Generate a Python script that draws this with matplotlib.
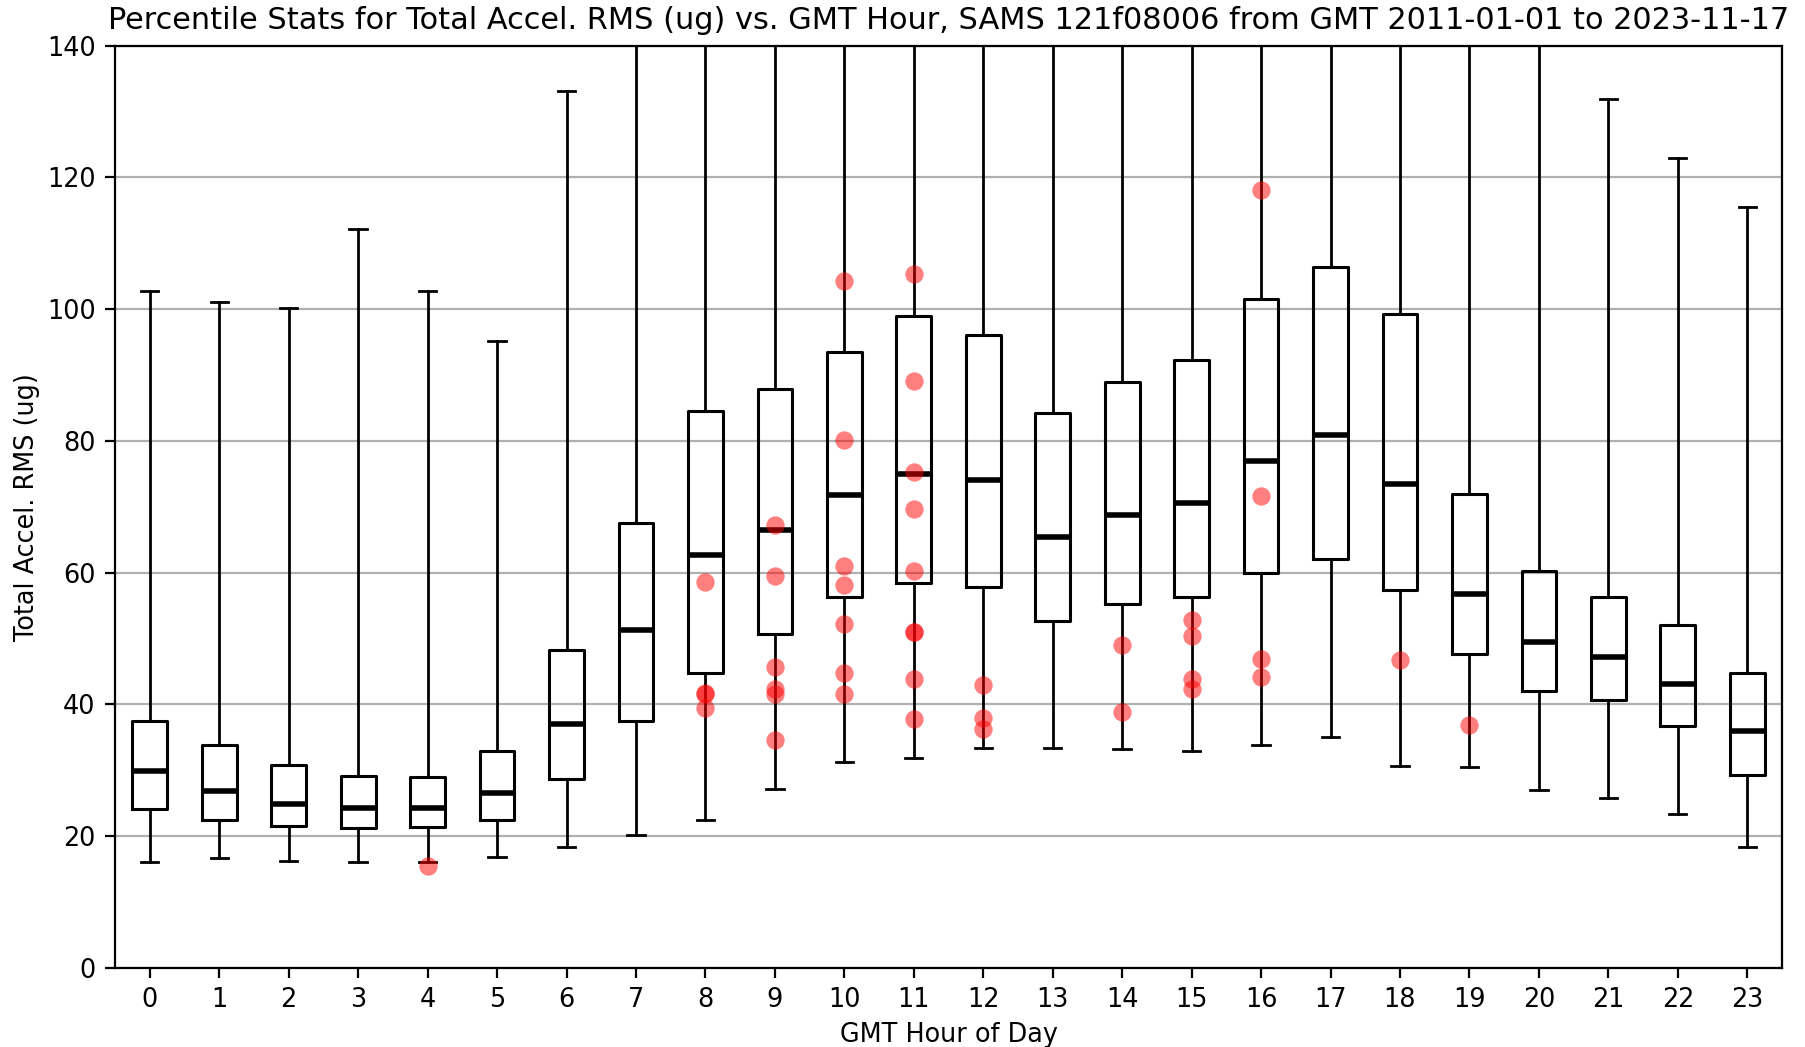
#!/usr/bin/env python3
"""Percentile stats of total accel. RMS per GMT hour, boxplot + red points"""
import matplotlib
matplotlib.use("Agg")
import matplotlib.pyplot as plt

HOURS = list(range(24))

# box stats (ug); top whiskers of hours 7-20 run off the chart
WHISLO = [16.1, 16.7, 16.2, 16.0, 16.0, 16.8, 18.4, 20.1, 22.4, 27.1, 31.3, 31.8,
          33.4, 33.4, 33.2, 32.9, 33.85, 35.0, 30.7, 30.5, 27.0, 25.7, 23.3, 18.4]
Q1 = [24.1, 22.5, 21.5, 21.2, 21.3, 22.5, 28.7, 37.5, 44.7, 50.7, 56.3, 58.4,
      57.8, 52.6, 55.2, 56.3, 59.9, 62.1, 57.4, 47.6, 42.0, 40.6, 36.7, 29.3]
MEDIAN = [29.9, 26.85, 24.9, 24.3, 24.3, 26.5, 37.05, 51.3, 62.7, 66.4, 71.7, 75.0,
          74.0, 65.4, 68.7, 70.55, 76.9, 80.9, 73.4, 56.7, 49.4, 47.2, 43.1, 35.9]
Q3 = [37.4, 33.85, 30.75, 29.1, 29.0, 32.9, 48.3, 67.6, 84.6, 87.9, 93.5, 98.9,
      96.0, 84.3, 88.9, 92.3, 101.6, 106.4, 99.2, 72.0, 60.3, 56.3, 52.0, 44.8]
WHISHI = [102.7, 101.1, 100.2, 112.1, 102.7, 95.1, 133.1, 150.0, 155.0, 160.0, 165.0, 170.0,
          168.0, 160.0, 162.0, 165.0, 170.0, 172.0, 168.0, 150.0, 145.0, 131.9, 123.0, 115.5]

# individual points drawn in red, per hour
POINTS = {
    4: [15.5],
    8: [58.6, 41.5, 41.7, 39.4],
    9: [67.2, 59.5, 45.7, 42.3, 41.5, 34.6],
    10: [104.2, 80.2, 61.0, 58.1, 52.2, 44.7, 41.5],
    11: [105.3, 89.1, 75.2, 69.6, 60.3, 51.0, 50.9, 43.9, 37.7],
    12: [42.9, 37.9, 36.2],
    14: [49.0, 38.9],
    15: [52.8, 50.4, 43.9, 42.3],
    16: [118.1, 71.6, 46.8, 44.2],
    18: [46.7],
    19: [36.9],
}

TITLE = ("Percentile Stats for Total Accel. RMS (ug) vs. GMT Hour, "
         "SAMS 121f08006 from GMT 2011-01-01 to 2023-11-17")
FS = 9.2

fig = plt.figure(figsize=(9.03, 5.235), dpi=200)
ax = fig.add_axes([0.0637, 0.0757, 0.9230, 0.8807])

stats = []
for i in HOURS:
    stats.append({"whislo": WHISLO[i], "q1": Q1[i], "med": MEDIAN[i],
                  "q3": Q3[i], "whishi": WHISHI[i], "fliers": []})

ax.bxp(stats, positions=HOURS, widths=0.5, showfliers=False,
       boxprops=dict(color="black", linewidth=1.1),
       whiskerprops=dict(color="black", linewidth=1.0),
       capprops=dict(color="black", linewidth=1.0),
       medianprops=dict(color="black", linewidth=2.0))

for hour, vals in POINTS.items():
    ax.plot([hour] * len(vals), vals, "o", color="red", alpha=0.5,
            markersize=6.6, markeredgecolor="none", zorder=3)

ax.set_xlim(-0.5, 23.5)
ax.set_ylim(0, 140)
ax.set_yticks(range(0, 141, 20))
ax.set_xticks(HOURS)
ax.set_xticklabels([str(h) for h in HOURS])
ax.yaxis.grid(True, color="#b0b0b0", linewidth=0.8)
ax.set_axisbelow(True)
ax.tick_params(labelsize=FS)

ax.set_title(TITLE, fontsize=10.95)
ax.set_xlabel("GMT Hour of Day", fontsize=FS, labelpad=3)
ax.set_ylabel("Total Accel. RMS (ug)", fontsize=FS, labelpad=2.5)

fig.savefig("out.png", dpi=200)
